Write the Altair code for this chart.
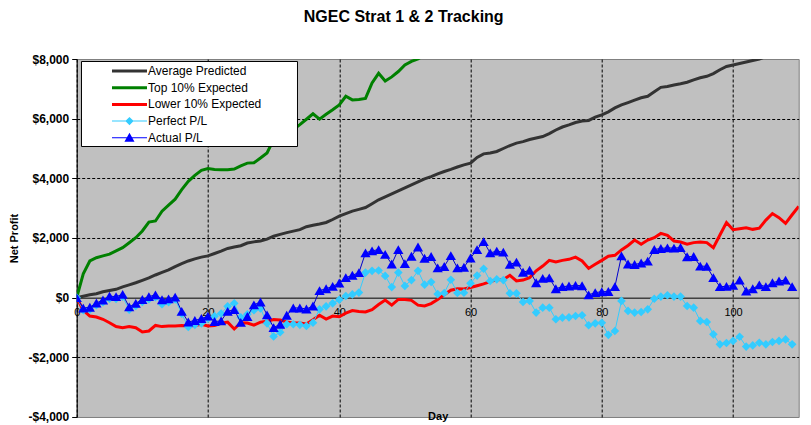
import altair as alt
import pandas as pd

# ---------------- data ----------------
series_names = ["Average Predicted", "Top 10% Expected", "Lower 10% Expected",
                "Perfect P/L", "Actual P/L"]

average_predicted = [
    0, 50, 95, 130, 200, 240, 280, 360, 430, 500,
    580, 660, 760, 850, 930, 1040, 1140, 1230, 1300, 1360,
    1400, 1480, 1560, 1650, 1700, 1740, 1830, 1870, 1900, 1960,
    2060, 2120, 2180, 2230, 2280, 2380, 2430, 2470, 2520, 2620,
    2735, 2820, 2900, 2960, 3020, 3150, 3280, 3380, 3480, 3580,
    3680, 3780, 3880, 3980, 4060, 4150, 4230, 4300, 4380, 4450,
    4510, 4700, 4820, 4850, 4900, 5000, 5100, 5180, 5230, 5300,
    5350, 5400, 5500, 5620, 5720, 5790, 5870, 5920, 5940, 6050,
    6130, 6230, 6360, 6460, 6540, 6620, 6700, 6750, 6900, 7050,
    7080, 7130, 7170, 7220, 7300, 7370, 7420, 7510, 7640, 7750,
    7800, 7850, 7900, 7950, 8000, 8080, 8150,
]

top_10_expected = [
    0, 800, 1230, 1340, 1400, 1460, 1565, 1675, 1840, 2010,
    2235, 2535, 2570, 2900, 3100, 3300, 3620, 3900, 4100, 4270,
    4330, 4300, 4290, 4290, 4310, 4420, 4510, 4520, 4680, 4850,
    5300, 5450, 5550, 5630, 5800, 5980, 6165, 5985, 6150, 6300,
    6460, 6750, 6630, 6640, 6680, 7200, 7520, 7260, 7400, 7580,
    7800, 7920, 8000, 8150,
]

lower_10_expected = [
    0, -420, -615, -650, -725, -840, -970, -1005, -970, -1005,
    -1150, -1117, -930, -970, -950, -950, -930, -950, -930, -895,
    -950, -930, -860, -820, -1050, -840, -850, -920, -820, -790,
    -730, -750, -815, -850, -850, -880, -740, -590, -715, -615,
    -640, -520, -430, -460, -480, -400, -230, -80, -250, -60,
    -60, -90, -250, -280, -200, -60, 100, 250, 300, 290,
    340, 400, 460, 540, 600, 610, 750, 560, 590, 670,
    900, 1060, 1250, 1195, 1250, 1285, 1360, 1230, 980, 1117,
    1250, 1390, 1420, 1600, 1750, 1930, 1790, 1930, 2010, 2155,
    2090, 1900, 1865, 1790, 1845, 1865, 1845, 1675, 2100, 2520,
    2280, 2310, 2340, 2290, 2330, 2600, 2820, 2680, 2490, 2780,
    3060,
]

perfect_pl = [
    0, -420, -400, -250, -150, -30, -40, 30, -400, -280,
    -140, -50, 20, -220, -150, -60, -540, -980, -910, -860,
    -700, -620, -530, -290, -190, -660, -560, -420, -360, -860,
    -1300, -1160, -890, -890, -910, -950, -840, -390, -290, -190,
    -70, 55, 110, 170, 840, 900, 910, 730, 355, 840,
    395, 590, 900, 435, 525, 120, 155, 600, 155, 165,
    480, 740, 970, 560, 615, 590, 145, 145, -145, -110,
    -500, -335, -335, -725, -670, -660, -615, -590, -925, -860,
    -840, -1245, -1117, -110, -445, -500, -480, -390, -35, 35,
    80, 35, 35, -280, -335, -780, -815, -1230, -1565, -1520,
    -1450, -1310, -1640, -1600, -1510, -1565, -1485, -1450, -1400, -1565,
]

actual_pl = [
    0, -350, -320, -180, -80, 50, 35, 110, -310, -190,
    -60, 35, 95, -70, -40, 20, -460, -815, -765, -700,
    -620, -800, -780, -460, -400, -830, -630, -240, -145, -575,
    -1005, -890, -590, -345, -345, -380, -280, 235, 300, 380,
    490, 670, 750, 840, 1500, 1570, 1610, 1450, 1130, 1610,
    1140, 1390, 1700, 1320, 1380, 1000, 1045, 1410, 1000, 1020,
    1330, 1610, 1880, 1500, 1560, 1525, 1115, 1190, 850, 920,
    500, 645, 665, 300, 368, 390, 410, 400, 95, 168,
    200, 205, 368, 1400, 1130, 1110, 1160, 1225, 1615, 1650,
    1670, 1660, 1680, 1372, 1380, 1058, 1050, 670, 368, 380,
    410, 590, 225, 300, 430, 370, 500, 560, 590, 368,
]

y_tick_values = [-4000, -2000, 0, 2000, 4000, 6000, 8000]
x_tick_values = [0, 20, 40, 60, 80, 100]

# ---------------- styles ----------------
line_colors = ["#333333", "#008000", "#FF0000", "#33CCFF", "#0000CC"]
legend_colors = ["#333333", "#008000", "#FF0000", "#33CCFF", "#0000FF"]
line_widths = [3, 3, 3, 1, 1]

# legend symbols: custom paths (thick line / thin line + marker)
thick = "M2.625,-0.19H7V0.19H2.625Z"
thin_diamond = "M2.625,-0.06H7V0.06H2.625Z M4.81,-0.52L5.33,0L4.81,0.52L4.29,0Z"
thin_triangle = "M2.625,-0.06H7V0.06H2.625Z M4.81,-0.62L5.44,0.5L4.18,0.5Z"
legend_shapes = [thick, thick, thick, thin_diamond, thin_triangle]

all_series = [average_predicted, top_10_expected, lower_10_expected, perfect_pl, actual_pl]
rows = []
for name, vals in zip(series_names, all_series):
    for d, v in enumerate(vals):
        rows.append({"day": d, "value": v, "series": name})
df = pd.DataFrame(rows)

FONT = "Liberation Sans"

x_enc = alt.X(
    "day:Q",
    scale=alt.Scale(domain=[0, 110], nice=False, zero=False),
    axis=alt.Axis(
        values=x_tick_values, offset=-119.33, ticks=False, labelPadding=9,
        domainColor="black", domainWidth=1,
        grid=True, gridColor="black", gridDash=[3, 2], gridWidth=1,
        labelFont=FONT, labelFontSize=11, labelColor="black", labelFlush=False,
        title="Day", titleFont=FONT, titleFontSize=11, titleFontWeight="bold",
        titleColor="black", titleY=119, titleBaseline="middle",
    ),
)
y_enc = alt.Y(
    "value:Q",
    scale=alt.Scale(domain=[-4000, 8000], nice=False),
    axis=alt.Axis(
        values=y_tick_values,
        labelExpr="(datum.value < 0 ? '-' : '') + '$' + format(abs(datum.value), ',')",
        labelFont=FONT, labelFontSize=12, labelFontWeight="bold", labelColor="black",
        labelPadding=3, tickSize=5, tickColor="black", domainColor="black", domainWidth=1,
        grid=True, gridColor="black", gridDash=[3, 2], gridWidth=1,
        gridOpacity={"condition": {"test": "datum.value == 8000 || datum.value == -4000 || datum.value == 0",
                                   "value": 0}, "value": 1},
        title="Net Profit", titleFont=FONT, titleFontSize=11, titleFontWeight="bold",
        titleColor="black", titleAngle=270, titleX=-62, titleY=179, titleBaseline="middle",
    ),
)

base = alt.Chart(df)
layers = []
for name, col, w in zip(series_names, line_colors, line_widths):
    layers.append(
        base.transform_filter(alt.datum.series == name)
        .mark_line(strokeWidth=w, color=col, clip=True)
        .encode(x=x_enc, y=y_enc)
    )
    if name == "Perfect P/L":
        layers.append(
            base.transform_filter(alt.datum.series == name)
            .mark_point(shape="diamond", filled=True, size=75, opacity=1, color="#33CCFF", clip=True)
            .encode(x=x_enc, y=y_enc)
        )
    if name == "Actual P/L":
        layers.append(
            base.transform_filter(alt.datum.series == name)
            .mark_point(shape="triangle-up", filled=True, size=105, opacity=1, color="#0000FF", clip=True)
            .encode(x=x_enc, y=y_enc)
        )

legend = alt.Legend(
    orient="none", legendX=4.3, legendY=2, title=None, padding=2,
    fillColor="white", strokeColor="black", cornerRadius=0,
    symbolSize=256, symbolStrokeWidth=0, symbolOpacity=1,
    labelFont=FONT, labelFontSize=12, labelColor="black", labelOffset=49,
    rowPadding=2.7,
    labelExpr="datum.label + '\u00a0\u00a0\u00a0\u00a0\u00a0\u00a0\u00a0\u00a0\u00a0\u00a0\u200b'",
)
legend_layer = (
    base.transform_filter("datum.day < 0")
    .mark_point(filled=True, opacity=1)
    .encode(
        x=x_enc, y=y_enc,
        color=alt.Color("series:N", scale=alt.Scale(domain=series_names, range=legend_colors), legend=legend),
        shape=alt.Shape("series:N", scale=alt.Scale(domain=series_names, range=legend_shapes), legend=legend),
    )
)
layers.append(legend_layer)

chart = (
    alt.layer(*layers)
    .properties(
        width=722, height=358,
        autosize=alt.AutoSizeParams(type="none"),
        padding={"left": 68.7, "top": 51, "right": 4, "bottom": 6},
        background="white",
        title=alt.Title("NGEC Strat 1 & 2 Tracking", font=FONT, fontSize=16, fontWeight="bold",
                        color="black", anchor="middle", frame="bounds", offset=28),
    )
    .configure_view(fill="#C0C0C0", stroke="#808080", strokeWidth=1)
)

chart.save("out.html", embed_options={"renderer": "svg", "actions": False})
